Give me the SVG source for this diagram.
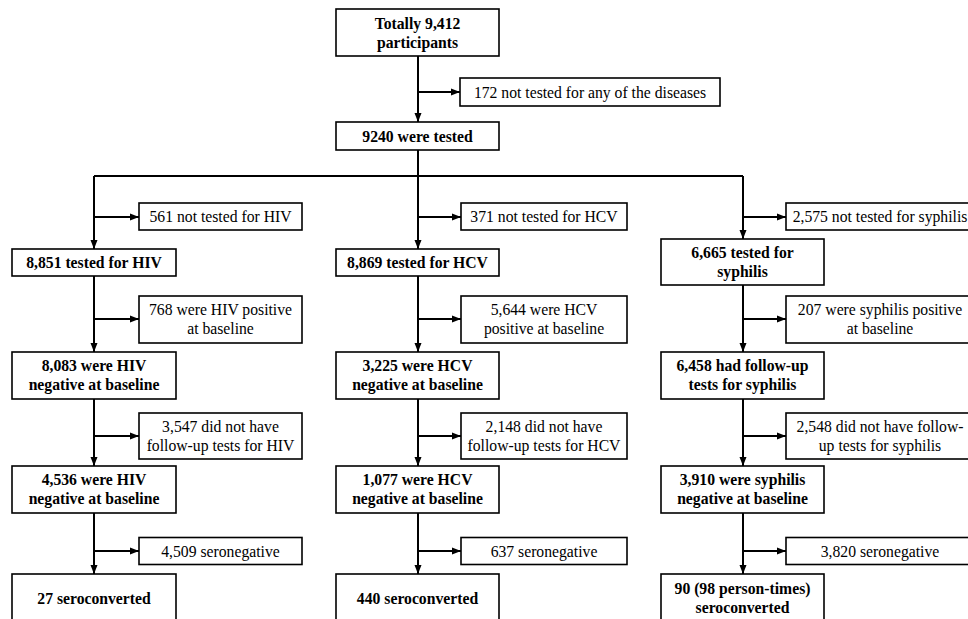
<svg xmlns="http://www.w3.org/2000/svg" width="968" height="619" viewBox="0 0 968 619">
<defs>
<marker id="ah" markerUnits="userSpaceOnUse" markerWidth="9" markerHeight="8" refX="9" refY="4" orient="auto">
<path d="M0,0.5 L9,4 L0,7.5 z" fill="#000"/>
</marker>
<style>
rect{fill:#fff;stroke:#000;stroke-width:1.6}
text{font-family:'Liberation Serif','Times New Roman',serif;font-size:15.7px;fill:#000;text-anchor:middle}
.b{font-weight:bold}
#connectors path{fill:none;stroke:#000;stroke-width:2}
.a{marker-end:url(#ah)}
</style>
</defs>
<rect x="0" y="0" width="968" height="619" style="fill:#fff;stroke:none"/>
<g id="connectors">
<path class="a" d="M418,56 V122"/>
<path class="a" d="M418,92 H460"/>
<path d="M418,150 V176 M94,176 H743"/>
<path class="a" d="M94,176 V249"/>
<path class="a" d="M94,217 H139"/>
<path class="a" d="M418,176 V249"/>
<path class="a" d="M418,217 H461"/>
<path class="a" d="M743,176 V239"/>
<path class="a" d="M743,217 H786"/>
<path class="a" d="M94,276 V352"/>
<path class="a" d="M94,319 H139"/>
<path class="a" d="M94,399 V466"/>
<path class="a" d="M94,436 H139"/>
<path class="a" d="M94,513 V574"/>
<path class="a" d="M94,551 H139"/>
<path class="a" d="M418,276 V352"/>
<path class="a" d="M418,319 H461"/>
<path class="a" d="M418,399 V466"/>
<path class="a" d="M418,436 H461"/>
<path class="a" d="M418,513 V574"/>
<path class="a" d="M418,551 H461"/>
<path class="a" d="M743,285 V352"/>
<path class="a" d="M743,319 H786"/>
<path class="a" d="M743,399 V466"/>
<path class="a" d="M743,436 H786"/>
<path class="a" d="M743,513 V574"/>
<path class="a" d="M743,551 H786"/>
</g>
<g id="n_total"><rect x="336" y="9" width="163" height="47"/><text class="b" x="417.5" y="28.5">Totally 9,412</text><text class="b" x="417.5" y="47.5">participants</text></g>
<g id="n_172"><rect x="460" y="78" width="260" height="28"/><text x="590" y="97.5">172 not tested for any of the diseases</text></g>
<g id="n_9240"><rect x="336" y="122" width="163" height="28"/><text class="b" x="417.5" y="141.5">9240 were tested</text></g>

<g id="n_561"><rect x="139" y="203" width="163" height="27"/><text x="220.5" y="222">561 not tested for HIV</text></g>
<g id="n_8851"><rect x="12" y="249" width="164" height="27"/><text class="b" x="94" y="268">8,851 tested for HIV</text></g>
<g id="n_768"><rect x="139" y="296" width="163" height="47"/><text x="220.5" y="315">768 were HIV positive</text><text x="220.5" y="334">at baseline</text></g>
<g id="n_8083"><rect x="12" y="352" width="164" height="47"/><text class="b" x="94" y="371">8,083 were HIV</text><text class="b" x="94" y="390">negative at baseline</text></g>
<g id="n_3547"><rect x="139" y="413" width="163" height="46"/><text x="220.5" y="431.5">3,547 did not have</text><text x="220.5" y="450.5">follow-up tests for HIV</text></g>
<g id="n_4536"><rect x="12" y="466" width="164" height="47"/><text class="b" x="94" y="485">4,536 were HIV</text><text class="b" x="94" y="504">negative at baseline</text></g>
<g id="n_4509"><rect x="139" y="537.5" width="163" height="27"/><text x="220.5" y="556.5">4,509 seronegative</text></g>
<g id="n_27"><rect x="12" y="574" width="164" height="48"/><text class="b" x="94" y="603.5">27 seroconverted</text></g>

<g id="n_371"><rect x="461" y="203" width="166" height="27"/><text x="544" y="222">371 not tested for HCV</text></g>
<g id="n_8869"><rect x="336" y="249" width="163" height="27"/><text class="b" x="417.5" y="268">8,869 tested for HCV</text></g>
<g id="n_5644"><rect x="461" y="296" width="166" height="47"/><text x="544" y="315">5,644 were HCV</text><text x="544" y="334">positive at baseline</text></g>
<g id="n_3225"><rect x="336" y="352" width="163" height="47"/><text class="b" x="417.5" y="371">3,225 were HCV</text><text class="b" x="417.5" y="390">negative at baseline</text></g>
<g id="n_2148"><rect x="461" y="413" width="166" height="46"/><text x="544" y="431.5">2,148 did not have</text><text x="544" y="450.5">follow-up tests for HCV</text></g>
<g id="n_1077"><rect x="336" y="466" width="163" height="47"/><text class="b" x="417.5" y="485">1,077 were HCV</text><text class="b" x="417.5" y="504">negative at baseline</text></g>
<g id="n_637"><rect x="461" y="537.5" width="166" height="27"/><text x="544" y="556.5">637 seronegative</text></g>
<g id="n_440"><rect x="336" y="574" width="163" height="48"/><text class="b" x="417.5" y="603.5">440 seroconverted</text></g>

<g id="n_2575"><rect x="786" y="203" width="188" height="27"/><text x="880" y="222">2,575 not tested for syphilis</text></g>
<g id="n_6665"><rect x="661" y="239" width="163" height="46"/><text class="b" x="742.5" y="257.5">6,665 tested for</text><text class="b" x="742.5" y="276.5">syphilis</text></g>
<g id="n_207"><rect x="786" y="296" width="188" height="47"/><text x="880" y="315">207 were syphilis positive</text><text x="880" y="334">at baseline</text></g>
<g id="n_6458"><rect x="661" y="352" width="163" height="47"/><text class="b" x="742.5" y="371">6,458 had follow-up</text><text class="b" x="742.5" y="390">tests for syphilis</text></g>
<g id="n_2548"><rect x="786" y="413" width="188" height="46"/><text x="880" y="431.5">2,548 did not have follow-</text><text x="880" y="450.5">up tests for syphilis</text></g>
<g id="n_3910"><rect x="661" y="466" width="163" height="47"/><text class="b" x="742.5" y="485">3,910 were syphilis</text><text class="b" x="742.5" y="504">negative at baseline</text></g>
<g id="n_3820"><rect x="786" y="537.5" width="188" height="27"/><text x="880" y="556.5">3,820 seronegative</text></g>
<g id="n_90"><rect x="661" y="574" width="163" height="48"/><text class="b" x="742.5" y="593.5">90 (98 person-times)</text><text class="b" x="742.5" y="612.5">seroconverted</text></g>
</svg>
